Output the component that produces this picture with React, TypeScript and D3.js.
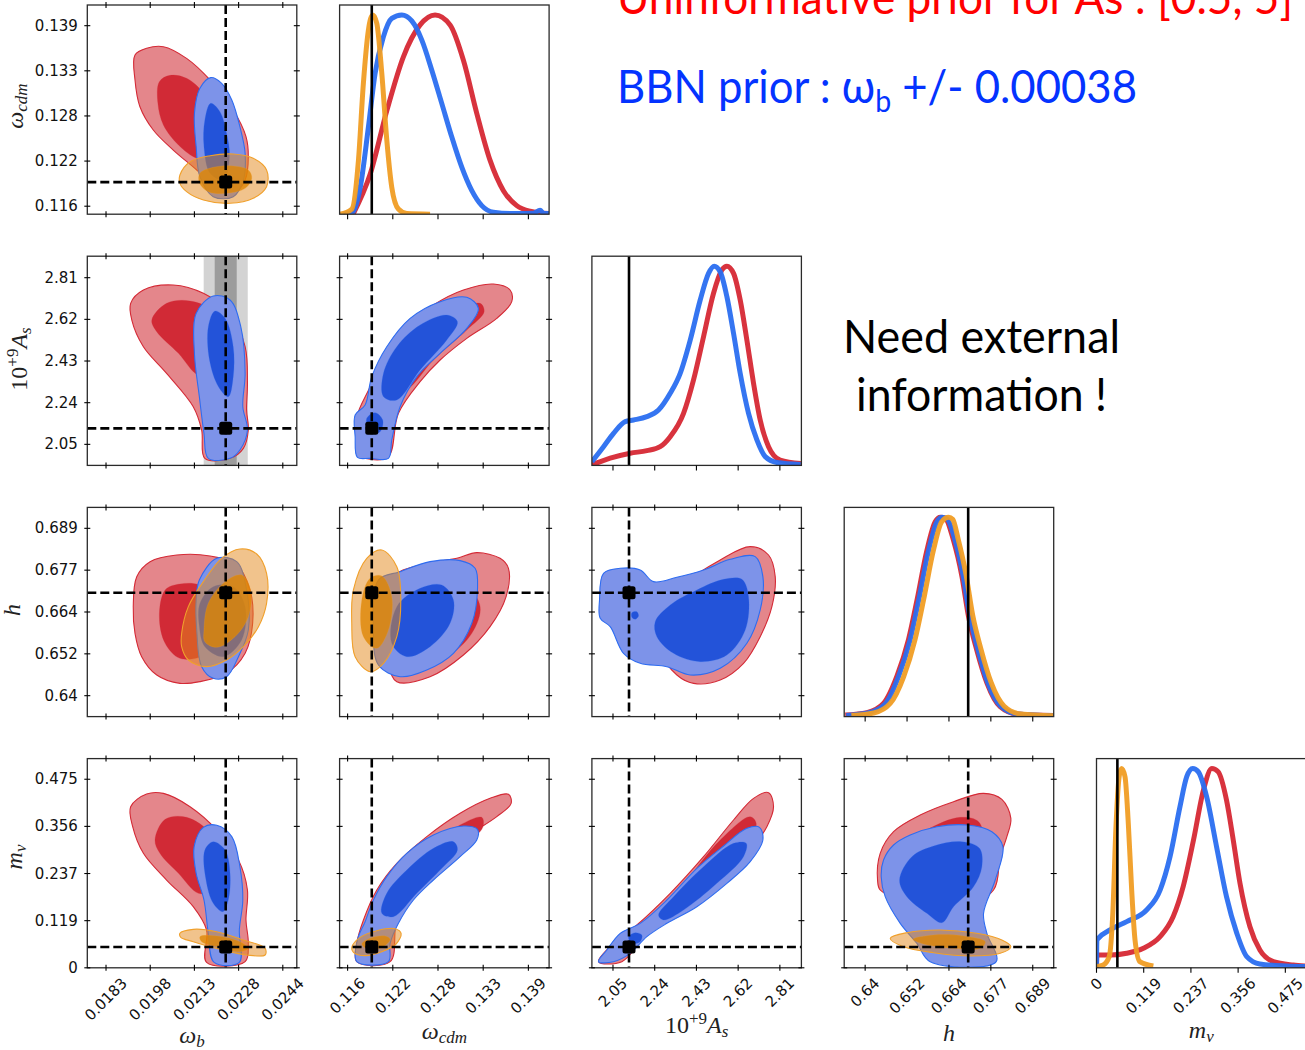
import React from 'react';
import * as d3 from 'd3';

type Pt = [number, number];
type Run = 'free' | 'bbn' | 'ext';
type Contour = { run: Run; level: 68 | 95; pts: Pt[] };
type Curve = { run: Run; pts: Pt[] };
type LabelPart = { t: string; it: boolean; pos: 'base' | 'sub' | 'sup' };

// parameters: omega_b, omega_cdm, 10^9 A_s, h, m_nu
const paramDomains: [number, number][] = [
  [0.017654, 0.024883],
  [0.115, 0.1417],
  [1.954, 2.908],
  [0.6339, 0.6949],
  [0, 0.527],
];
const paramTicks: number[][] = [
  [0.0183, 0.019825, 0.02135, 0.022875, 0.0244],
  [0.11602, 0.12178, 0.12754, 0.1333, 0.13906],
  [2.05, 2.24, 2.43, 2.62, 2.81],
  [0.64, 0.6522, 0.6644, 0.6766, 0.6888],
  [0, 0.11875, 0.2375, 0.35625, 0.475],
];
const paramTickLabels: string[][] = [
  ['0.0183', '0.0198', '0.0213', '0.0228', '0.0244'],
  ['0.116', '0.122', '0.128', '0.133', '0.139'],
  ['2.05', '2.24', '2.43', '2.62', '2.81'],
  ['0.64', '0.652', '0.664', '0.677', '0.689'],
  ['0', '0.119', '0.237', '0.356', '0.475'],
];
const axisLabels: LabelPart[][] = [
  [{ t: 'ω', it: true, pos: 'base' }, { t: 'b', it: true, pos: 'sub' }],
  [{ t: 'ω', it: true, pos: 'base' }, { t: 'cdm', it: true, pos: 'sub' }],
  [{ t: '10', it: false, pos: 'base' }, { t: '+9', it: false, pos: 'sup' }, { t: 'A', it: true, pos: 'base' }, { t: 's', it: true, pos: 'sub' }],
  [{ t: 'h', it: true, pos: 'base' }],
  [{ t: 'm', it: true, pos: 'base' }, { t: 'ν', it: true, pos: 'sub' }],
];
const fiducial = [0.02243, 0.1191, 2.123, 0.67, 0.0525];
const bbnSigma = 0.00038;

// 2D credible regions (95% then 68%)
const wbWcdm: Contour[] = [
  { run: 'free', level: 95, pts: [[0.0193, 0.13532], [0.0197, 0.13617], [0.02028, 0.13638], [0.02108, 0.13489], [0.02189, 0.13213], [0.02269, 0.1283], [0.02313, 0.1249], [0.02321, 0.12234], [0.0231, 0.11937], [0.02269, 0.11766], [0.02212, 0.1183], [0.02143, 0.12064], [0.02062, 0.12319], [0.01993, 0.12575], [0.01947, 0.12872], [0.0193, 0.13213]] },
  { run: 'free', level: 68, pts: [[0.02014, 0.13192], [0.02051, 0.13272], [0.02108, 0.13234], [0.02166, 0.13043], [0.022, 0.12745], [0.02212, 0.12405], [0.02189, 0.12192], [0.02143, 0.12213], [0.0208, 0.12383], [0.02028, 0.12638], [0.02009, 0.12915]] },
  { run: 'bbn', level: 95, pts: [[0.02191, 0.13243], [0.02229, 0.1317], [0.02264, 0.12958], [0.02292, 0.12617], [0.0231, 0.12277], [0.02304, 0.11937], [0.02269, 0.11724], [0.022, 0.11724], [0.02154, 0.11979], [0.02141, 0.12362], [0.02135, 0.12787], [0.02154, 0.13107]] },
  { run: 'bbn', level: 68, pts: [[0.02191, 0.12915], [0.02223, 0.12809], [0.02246, 0.12532], [0.02256, 0.12234], [0.02235, 0.11937], [0.02189, 0.12022], [0.02168, 0.12362], [0.02171, 0.12702]] },
  { run: 'ext', level: 95, pts: [[0.02085, 0.12], [0.0212, 0.1217], [0.02189, 0.12247], [0.02269, 0.12268], [0.02338, 0.12213], [0.02384, 0.12064], [0.02384, 0.11851], [0.02338, 0.11703], [0.02258, 0.11639], [0.02166, 0.11681], [0.02108, 0.11788], [0.02085, 0.11894]] },
  { run: 'ext', level: 68, pts: [[0.02154, 0.12022], [0.022, 0.12098], [0.02269, 0.12115], [0.02321, 0.12064], [0.02333, 0.11958], [0.0231, 0.1183], [0.02246, 0.11766], [0.02183, 0.11788], [0.02152, 0.11902]] },
];

const wbAs: Contour[] = [
  { run: 'free', level: 95, pts: [[0.01915, 2.693], [0.01959, 2.7538], [0.02062, 2.7766], [0.02166, 2.7386], [0.02258, 2.6474], [0.0231, 2.4954], [0.02318, 2.3282], [0.02315, 2.2066], [0.02321, 2.1154], [0.02304, 2.0318], [0.02258, 1.9862], [0.02171, 1.9862], [0.0216, 2.1154], [0.02131, 2.2218], [0.02039, 2.3738], [0.01959, 2.4954], [0.01919, 2.617]] },
  { run: 'free', level: 68, pts: [[0.01988, 2.617], [0.02039, 2.693], [0.0212, 2.7037], [0.022, 2.655], [0.02223, 2.5258], [0.022, 2.389], [0.02149, 2.3662], [0.0208, 2.465], [0.02005, 2.5638]] },
  { run: 'bbn', level: 95, pts: [[0.022, 2.7265], [0.02258, 2.7082], [0.02295, 2.5866], [0.0231, 2.3738], [0.02302, 2.2218], [0.02318, 2.1154], [0.02292, 2.0242], [0.02258, 1.9862], [0.02183, 1.9862], [0.02168, 2.1002], [0.02152, 2.2674], [0.02135, 2.465], [0.02141, 2.6474]] },
  { run: 'bbn', level: 68, pts: [[0.02206, 2.6581], [0.02241, 2.6246], [0.02269, 2.4954], [0.02269, 2.3586], [0.02252, 2.2674], [0.02218, 2.313], [0.02187, 2.4346], [0.02183, 2.5866]] },
];

const wcdmAs: Contour[] = [
  { run: 'free', level: 95, pts: [[0.11719, 2.0698], [0.11719, 2.1762], [0.11889, 2.313], [0.12101, 2.4802], [0.12356, 2.5866], [0.12696, 2.6854], [0.13078, 2.7538], [0.13461, 2.7812], [0.13673, 2.7538], [0.13694, 2.7006], [0.13503, 2.6246], [0.13121, 2.5334], [0.12781, 2.4346], [0.12526, 2.3358], [0.1225, 2.1914], [0.12122, 1.9938], [0.11889, 1.9817], [0.11727, 2.009]] },
  { run: 'free', level: 68, pts: [[0.12101, 2.2674], [0.12229, 2.4042], [0.12526, 2.541], [0.12951, 2.655], [0.13291, 2.693], [0.13342, 2.655], [0.13121, 2.5714], [0.12696, 2.4346], [0.12356, 2.2978]] },
  { run: 'bbn', level: 95, pts: [[0.11727, 1.9908], [0.11698, 2.085], [0.11698, 2.1838], [0.11825, 2.2294], [0.1191, 2.3586], [0.12101, 2.4954], [0.12399, 2.6246], [0.12781, 2.7006], [0.13121, 2.7204], [0.13269, 2.6702], [0.13121, 2.579], [0.12781, 2.465], [0.12484, 2.3586], [0.12271, 2.2218], [0.12165, 2.0698], [0.12122, 1.9862], [0.11889, 1.9862]] },
  { run: 'bbn', level: 68, pts: [[0.12059, 2.2674], [0.12059, 2.3738], [0.12229, 2.4954], [0.12526, 2.5942], [0.12866, 2.6398], [0.13002, 2.6094], [0.12866, 2.5258], [0.12526, 2.389], [0.12229, 2.2522]] },
  { run: 'bbn', level: 68, pts: [[0.11846, 2.1686], [0.11952, 2.1945], [0.1205, 2.161], [0.12016, 2.1078], [0.11889, 2.1002]] },
];

const wbH: Contour[] = [
  { run: 'free', level: 95, pts: [[0.01924, 0.66596], [0.01936, 0.6747], [0.01982, 0.67908], [0.02074, 0.68102], [0.02189, 0.68073], [0.02281, 0.67811], [0.02327, 0.67082], [0.02336, 0.6611], [0.0231, 0.65235], [0.02246, 0.64652], [0.02154, 0.64409], [0.02085, 0.6436], [0.02005, 0.64603], [0.01953, 0.65138], [0.0193, 0.65818]] },
  { run: 'free', level: 68, pts: [[0.02014, 0.66304], [0.02034, 0.67082], [0.02085, 0.67257], [0.02154, 0.67228], [0.022, 0.66887], [0.02212, 0.65915], [0.02166, 0.65186], [0.02085, 0.65089], [0.02034, 0.65527]] },
  { run: 'bbn', level: 95, pts: [[0.02152, 0.67373], [0.02212, 0.68005], [0.02281, 0.67908], [0.02315, 0.67082], [0.02321, 0.65915], [0.02287, 0.65138], [0.02246, 0.64554], [0.022, 0.64506], [0.0216, 0.64846], [0.02143, 0.65915], [0.02141, 0.6679]] },
  { run: 'bbn', level: 68, pts: [[0.02154, 0.66693], [0.022, 0.67179], [0.02269, 0.67179], [0.0231, 0.66596], [0.02298, 0.65624], [0.02235, 0.65138], [0.02171, 0.65429], [0.02152, 0.66012]] },
  { run: 'ext', level: 95, pts: [[0.02091, 0.65818], [0.02114, 0.66596], [0.02166, 0.67325], [0.02229, 0.68005], [0.02292, 0.68277], [0.0235, 0.68131], [0.02384, 0.67568], [0.02384, 0.66693], [0.02356, 0.66012], [0.02304, 0.65429], [0.02246, 0.65041], [0.02177, 0.64846], [0.02114, 0.65041], [0.02091, 0.65429]] },
  { run: 'ext', level: 68, pts: [[0.02168, 0.65915], [0.02183, 0.66693], [0.02241, 0.67325], [0.02298, 0.67519], [0.02329, 0.67082], [0.02321, 0.66304], [0.02275, 0.65721], [0.02212, 0.6541], [0.02171, 0.65575]] },
];

const wcdmH: Contour[] = [
  { run: 'free', level: 95, pts: [[0.12229, 0.64409], [0.12653, 0.64554], [0.13078, 0.65186], [0.13418, 0.66012], [0.13622, 0.66887], [0.13652, 0.67714], [0.13546, 0.68005], [0.13248, 0.6817], [0.12993, 0.68005], [0.12526, 0.67811], [0.12186, 0.6747], [0.1208, 0.6611], [0.12122, 0.64943]] },
  { run: 'free', level: 68, pts: [[0.12229, 0.65429], [0.12314, 0.6679], [0.12696, 0.67325], [0.13121, 0.67179], [0.13291, 0.66596], [0.13185, 0.65818], [0.12866, 0.65138], [0.12484, 0.64943]] },
  { run: 'bbn', level: 95, pts: [[0.11995, 0.64895], [0.11931, 0.65915], [0.11995, 0.67373], [0.12271, 0.67616], [0.12653, 0.67908], [0.13036, 0.67937], [0.13227, 0.67714], [0.13257, 0.67082], [0.13185, 0.6611], [0.12951, 0.65235], [0.12611, 0.64749], [0.12271, 0.64554]] },
  { run: 'bbn', level: 68, pts: [[0.12165, 0.65527], [0.12229, 0.66596], [0.12526, 0.6713], [0.12802, 0.67228], [0.12951, 0.6679], [0.12908, 0.6611], [0.12653, 0.65429], [0.12356, 0.65138]] },
  { run: 'ext', level: 95, pts: [[0.11676, 0.67082], [0.11846, 0.68005], [0.12038, 0.68248], [0.12229, 0.67762], [0.1228, 0.6679], [0.12229, 0.65721], [0.12059, 0.64943], [0.11889, 0.647], [0.11698, 0.65138], [0.11655, 0.6611]] },
  { run: 'ext', level: 68, pts: [[0.11783, 0.6679], [0.11889, 0.67422], [0.12038, 0.6749], [0.12165, 0.66887], [0.12122, 0.65915], [0.11974, 0.65381], [0.11804, 0.65721]] },
];

const asH: Contour[] = [
  { run: 'free', level: 95, pts: [[2.2347, 0.66304], [2.3561, 0.67179], [2.5383, 0.67957], [2.6749, 0.68345], [2.7584, 0.68102], [2.7888, 0.6747], [2.7736, 0.66596], [2.7204, 0.65721], [2.6445, 0.64943], [2.5383, 0.64457], [2.4168, 0.6436], [2.3409, 0.64603], [2.2499, 0.65429]] },
  { run: 'free', level: 68, pts: [[2.3637, 0.65915], [2.4472, 0.66936], [2.5838, 0.67422], [2.6719, 0.67179], [2.6825, 0.66304], [2.6294, 0.65478], [2.5231, 0.64992], [2.4168, 0.65089]] },
  { run: 'bbn', level: 95, pts: [[1.9887, 0.6679], [2.007, 0.67568], [2.0829, 0.67714], [2.174, 0.67665], [2.2347, 0.67325], [2.3409, 0.67451], [2.4624, 0.67665], [2.5838, 0.67976], [2.6977, 0.68054], [2.7326, 0.6747], [2.7204, 0.66499], [2.6597, 0.65527], [2.5383, 0.64798], [2.4017, 0.64603], [2.2954, 0.64846], [2.174, 0.64943], [2.098, 0.65235], [2.0373, 0.66012], [1.9918, 0.66256]] },
  { run: 'bbn', level: 68, pts: [[2.2423, 0.66158], [2.3106, 0.66644], [2.432, 0.67082], [2.5534, 0.67393], [2.637, 0.67393], [2.6673, 0.66887], [2.6521, 0.65915], [2.5687, 0.65186], [2.4472, 0.64992], [2.3257, 0.65235], [2.2499, 0.65721]] },
  { run: 'bbn', level: 68, pts: [[2.136, 0.66421], [2.1588, 0.6645], [2.1664, 0.66324], [2.1512, 0.66226], [2.136, 0.66285]] },
];

const wbM: Contour[] = [
  { run: 'free', level: 95, pts: [[0.01915, 0.40589], [0.0197, 0.4378], [0.02028, 0.43949], [0.0212, 0.40589], [0.02212, 0.34712], [0.02287, 0.27155], [0.02318, 0.19598], [0.02313, 0.12041], [0.02321, 0.06164], [0.0231, 0.01544], [0.02177, 0.01378], [0.02177, 0.09522], [0.02131, 0.15399], [0.02039, 0.22117], [0.01959, 0.28835], [0.01922, 0.35551]] },
  { run: 'free', level: 68, pts: [[0.01999, 0.32193], [0.02034, 0.374], [0.02108, 0.37903], [0.02189, 0.33873], [0.02218, 0.27155], [0.022, 0.19598], [0.02149, 0.18759], [0.0208, 0.23797], [0.02016, 0.28835]] },
  { run: 'bbn', level: 95, pts: [[0.02166, 0.35384], [0.02212, 0.35888], [0.02264, 0.33032], [0.02292, 0.25475], [0.02302, 0.17079], [0.0229, 0.09522], [0.0229, 0.01378], [0.02203, 0.01378], [0.02183, 0.08683], [0.02168, 0.17079], [0.02141, 0.23797], [0.02134, 0.30513]] },
  { run: 'bbn', level: 68, pts: [[0.02171, 0.29674], [0.022, 0.31772], [0.02241, 0.29674], [0.02258, 0.23797], [0.02252, 0.17079], [0.02233, 0.14139], [0.022, 0.1624], [0.02175, 0.22117]] },
  { run: 'ext', level: 95, pts: [[0.02085, 0.08683], [0.02131, 0.09691], [0.02212, 0.09101], [0.02304, 0.07003], [0.02379, 0.04905], [0.02379, 0.03224], [0.02315, 0.03224], [0.02223, 0.04653], [0.02131, 0.06582], [0.02088, 0.07675]] },
  { run: 'ext', level: 68, pts: [[0.02154, 0.07842], [0.02212, 0.0801], [0.02292, 0.06582], [0.02321, 0.04905], [0.02292, 0.04063], [0.02212, 0.05323], [0.0216, 0.06582]] },
];

const wcdmM: Contour[] = [
  { run: 'free', level: 95, pts: [[0.11719, 0.06164], [0.11804, 0.12041], [0.11974, 0.19598], [0.12229, 0.26316], [0.12611, 0.33032], [0.13036, 0.38911], [0.13418, 0.42689], [0.13652, 0.43697], [0.13686, 0.4143], [0.13503, 0.3807], [0.13121, 0.33032], [0.12781, 0.27155], [0.12484, 0.21278], [0.12229, 0.12041], [0.12144, 0.01544], [0.11719, 0.01544]] },
  { run: 'free', level: 68, pts: [[0.12101, 0.1624], [0.12271, 0.23797], [0.12653, 0.30513], [0.13036, 0.35971], [0.13312, 0.37903], [0.13325, 0.35384], [0.13078, 0.30513], [0.12653, 0.22956], [0.12314, 0.1624]] },
  { run: 'bbn', level: 95, pts: [[0.11719, 0.01544], [0.11727, 0.07003], [0.11825, 0.1162], [0.11931, 0.17079], [0.12101, 0.22956], [0.12356, 0.28835], [0.12696, 0.33452], [0.13078, 0.35719], [0.13257, 0.34881], [0.13248, 0.32193], [0.13036, 0.27994], [0.12696, 0.22117], [0.12441, 0.17079], [0.1225, 0.11202], [0.12144, 0.06164], [0.12122, 0.01544]] },
  { run: 'bbn', level: 68, pts: [[0.12038, 0.13721], [0.12101, 0.18759], [0.12356, 0.24636], [0.12696, 0.30094], [0.12951, 0.31772], [0.13002, 0.29674], [0.12781, 0.24636], [0.12484, 0.18759], [0.12186, 0.1288]] },
  { run: 'ext', level: 95, pts: [[0.11655, 0.05156], [0.11761, 0.07675], [0.11974, 0.09353], [0.12207, 0.09857], [0.12284, 0.08683], [0.1222, 0.05995], [0.12038, 0.04063], [0.11825, 0.03056], [0.11676, 0.03897]] },
  { run: 'ext', level: 68, pts: [[0.11783, 0.05995], [0.11889, 0.07424], [0.1208, 0.0801], [0.12144, 0.07172], [0.12059, 0.05323], [0.11867, 0.04653]] },
];

const asM: Contour[] = [
  { run: 'free', level: 95, pts: [[1.9842, 0.01544], [2.0525, 0.06164], [2.1588, 0.10781], [2.3106, 0.18759], [2.4624, 0.27994], [2.599, 0.37231], [2.6901, 0.42689], [2.7584, 0.44115], [2.7811, 0.40589], [2.7508, 0.35551], [2.6749, 0.29674], [2.5383, 0.22117], [2.3713, 0.1456], [2.2195, 0.09522], [2.0905, 0.01544]] },
  { run: 'free', level: 68, pts: [[2.2499, 0.1288], [2.3865, 0.22117], [2.5383, 0.32193], [2.6749, 0.3807], [2.7022, 0.36392], [2.6597, 0.30513], [2.5079, 0.21278], [2.3257, 0.1288]] },
  { run: 'bbn', level: 95, pts: [[1.9842, 0.01544], [2.0222, 0.04484], [2.0829, 0.08683], [2.174, 0.11202], [2.2954, 0.17079], [2.432, 0.25056], [2.5534, 0.30682], [2.6597, 0.35132], [2.7174, 0.35384], [2.7326, 0.32193], [2.6749, 0.26734], [2.5687, 0.21278], [2.432, 0.15399], [2.2954, 0.11202], [2.2043, 0.07842], [2.1284, 0.03645], [2.0525, 0.01544]] },
  { run: 'bbn', level: 68, pts: [[2.2574, 0.133], [2.3257, 0.17918], [2.4624, 0.25475], [2.599, 0.31354], [2.6567, 0.31354], [2.6445, 0.27994], [2.5231, 0.21278], [2.3713, 0.1456], [2.2802, 0.12041]] },
  { run: 'bbn', level: 68, pts: [[2.1208, 0.07842], [2.1512, 0.08849], [2.1816, 0.08262], [2.174, 0.06582], [2.136, 0.06164]] },
];

const hM: Contour[] = [
  { run: 'free', level: 95, pts: [[0.64361, 0.22117], [0.64438, 0.28835], [0.64827, 0.34291], [0.65603, 0.3849], [0.66574, 0.41848], [0.67447, 0.43949], [0.67981, 0.42438], [0.68243, 0.37651], [0.68127, 0.33032], [0.67933, 0.27994], [0.67739, 0.19598], [0.66768, 0.15399], [0.65118, 0.17079], [0.64438, 0.19598]] },
  { run: 'free', level: 68, pts: [[0.65215, 0.30513], [0.65797, 0.34712], [0.66768, 0.37903], [0.67302, 0.3681], [0.67447, 0.32193], [0.67253, 0.22117], [0.6638, 0.13721], [0.65312, 0.17079], [0.65021, 0.24636]] },
  { run: 'bbn', level: 95, pts: [[0.64535, 0.27155], [0.64827, 0.30933], [0.65312, 0.33452], [0.66089, 0.35551], [0.66962, 0.35971], [0.6769, 0.34291], [0.68011, 0.30513], [0.67787, 0.22117], [0.67447, 0.13721], [0.67545, 0.08683], [0.67816, 0.01544], [0.65894, 0.01544], [0.65506, 0.06164], [0.65021, 0.11202], [0.64584, 0.17918], [0.64467, 0.22956]] },
  { run: 'bbn', level: 68, pts: [[0.65001, 0.22117], [0.65361, 0.27994], [0.65991, 0.30682], [0.66817, 0.31772], [0.67331, 0.30094], [0.67399, 0.25475], [0.67156, 0.20437], [0.66574, 0.15399], [0.66234, 0.11368], [0.65797, 0.13721], [0.65215, 0.17918]] },
  { run: 'ext', level: 95, pts: [[0.6473, 0.07424], [0.65215, 0.08849], [0.66186, 0.09522], [0.67253, 0.08683], [0.67981, 0.07003], [0.68243, 0.05323], [0.67933, 0.03645], [0.67059, 0.02972], [0.65991, 0.03811], [0.65118, 0.05323]] },
  { run: 'ext', level: 68, pts: [[0.6539, 0.07172], [0.65991, 0.08262], [0.66865, 0.0801], [0.67496, 0.06582], [0.6735, 0.04905], [0.66574, 0.04905], [0.657, 0.05995]] },
];

// 1D marginals (peak normalised to 1)
const wcdm1d: Curve[] = [
  { run: 'free', pts: [[0.11676, 0.003], [0.11889, 0.2], [0.12102, 0.52], [0.12313, 0.79], [0.12526, 0.95], [0.12717, 1.0], [0.12908, 0.95], [0.13078, 0.773], [0.13249, 0.505], [0.13418, 0.27], [0.13588, 0.118], [0.13758, 0.043], [0.13928, 0.015], [0.1417, 0.003]] },
  { run: 'bbn', pts: [[0.1155, 0], [0.11656, 0.005], [0.11761, 0.13], [0.11867, 0.437], [0.11952, 0.706], [0.12058, 0.89], [0.12165, 0.983], [0.12293, 1.0], [0.1242, 0.97], [0.12548, 0.874], [0.12675, 0.723], [0.12803, 0.555], [0.1293, 0.387], [0.13057, 0.236], [0.13185, 0.118], [0.13312, 0.043], [0.1346, 0.01], [0.13715, 0.003], [0.1397, 0.005], [0.14055, 0.02], [0.14098, 0.005], [0.1417, 0.003]] },
  { run: 'ext', pts: [[0.11506, 0], [0.11656, 0.026], [0.1174, 0.27], [0.11803, 0.656], [0.11867, 0.924], [0.11923, 1.0], [0.11974, 0.958], [0.12038, 0.706], [0.12102, 0.37], [0.12165, 0.135], [0.12249, 0.026], [0.12357, 0.003], [0.12653, 0]] },
];
const as1d: Curve[] = [
  { run: 'free', pts: [[1.954, 0.002], [2.0373, 0.036], [2.1284, 0.061], [2.2043, 0.074], [2.265, 0.094], [2.3106, 0.144], [2.3713, 0.261], [2.4168, 0.429], [2.4624, 0.646], [2.5079, 0.864], [2.5459, 0.981], [2.5687, 1.0], [2.599, 0.964], [2.6294, 0.83], [2.6597, 0.629], [2.6901, 0.412], [2.7204, 0.228], [2.7584, 0.094], [2.8115, 0.027], [2.905, 0.01]] },
  { run: 'bbn', pts: [[1.954, 0.019], [2.007, 0.094], [2.0525, 0.161], [2.1057, 0.22], [2.1436, 0.228], [2.2043, 0.245], [2.2574, 0.278], [2.3106, 0.362], [2.3561, 0.462], [2.4017, 0.629], [2.4472, 0.83], [2.4851, 0.964], [2.5109, 1.0], [2.5383, 0.972], [2.5687, 0.847], [2.599, 0.663], [2.6294, 0.462], [2.6673, 0.261], [2.7053, 0.128], [2.7432, 0.044], [2.7963, 0.015], [2.905, 0.005]] },
];
const h1d: Curve[] = [
  { run: 'free', pts: [[0.6342, 0.008], [0.6405, 0.02], [0.6454, 0.067], [0.6492, 0.2], [0.6526, 0.385], [0.6551, 0.585], [0.658, 0.836], [0.6604, 0.978], [0.6619, 1.0], [0.6633, 0.995], [0.6657, 0.886], [0.6682, 0.702], [0.6701, 0.502], [0.6725, 0.334], [0.6755, 0.167], [0.6793, 0.05], [0.6842, 0.013], [0.6949, 0.005]] },
  { run: 'bbn', pts: [[0.6345, 0.006], [0.6408, 0.018], [0.6459, 0.065], [0.6497, 0.2], [0.6531, 0.385], [0.6556, 0.585], [0.6585, 0.836], [0.6609, 0.978], [0.6624, 1.0], [0.6638, 0.993], [0.6661, 0.89], [0.6685, 0.71], [0.6704, 0.51], [0.6728, 0.34], [0.6757, 0.17], [0.6795, 0.052], [0.6843, 0.013], [0.6949, 0.004]] },
  { run: 'ext', pts: [[0.636, 0.005], [0.6425, 0.018], [0.6473, 0.066], [0.6512, 0.2], [0.6545, 0.385], [0.657, 0.585], [0.6599, 0.836], [0.6623, 0.978], [0.6643, 1.0], [0.6655, 0.99], [0.6671, 0.89], [0.6694, 0.71], [0.6713, 0.51], [0.6737, 0.34], [0.6767, 0.17], [0.6805, 0.052], [0.6853, 0.013], [0.6949, 0.004]] },
];
const m1d: Curve[] = [
  { run: 'free', pts: [[0, 0], [0.001, 0.064], [0.034, 0.064], [0.076, 0.073], [0.118, 0.098], [0.16, 0.156], [0.193, 0.257], [0.218, 0.407], [0.244, 0.641], [0.269, 0.892], [0.29, 1.0], [0.306, 0.984], [0.327, 0.842], [0.344, 0.641], [0.361, 0.424], [0.386, 0.206], [0.411, 0.089], [0.445, 0.031], [0.495, 0.014], [0.525, 0.009]] },
  { run: 'bbn', pts: [[0, 0], [0.001, 0.14], [0.034, 0.19], [0.076, 0.232], [0.126, 0.29], [0.16, 0.39], [0.185, 0.558], [0.21, 0.809], [0.227, 0.959], [0.242, 1.0], [0.256, 0.984], [0.277, 0.859], [0.302, 0.608], [0.327, 0.357], [0.353, 0.173], [0.378, 0.056], [0.411, 0.019], [0.478, 0.009], [0.525, 0.006]] },
  { run: 'ext', pts: [[0, 0.005], [0.017, 0.014], [0.032, 0.056], [0.041, 0.273], [0.049, 0.708], [0.057, 0.959], [0.063, 1.0], [0.0717, 0.959], [0.08, 0.725], [0.0885, 0.39], [0.0969, 0.14], [0.109, 0.031], [0.143, 0.009]] },
];

const panels2D = [
  { xi: 0, yi: 1, contours: wbWcdm, band: false },
  { xi: 0, yi: 2, contours: wbAs, band: true },
  { xi: 1, yi: 2, contours: wcdmAs, band: false },
  { xi: 0, yi: 3, contours: wbH, band: false },
  { xi: 1, yi: 3, contours: wcdmH, band: false },
  { xi: 2, yi: 3, contours: asH, band: false },
  { xi: 0, yi: 4, contours: wbM, band: false },
  { xi: 1, yi: 4, contours: wcdmM, band: false },
  { xi: 2, yi: 4, contours: asM, band: false },
  { xi: 3, yi: 4, contours: hM, band: false },
];
const panels1D = [
  { pi: 1, curves: wcdm1d },
  { pi: 2, curves: as1d },
  { pi: 3, curves: h1d },
  { pi: 4, curves: m1d },
];

// layout
const W = 209.5;
const H = 209.2;
const colLeft = (c: number) => 87.3 + c * 252.3;
const rowTop = (r: number) => 5 + r * 251.2;
const yLabelPos = [
  { x: 23, y: 106 },
  { x: 27, y: 359 },
  { x: 20, y: 610 },
  { x: 22, y: 857 },
];
const xLabelBase = [1043, 1039, 1033, 1041, 1038];

const TICK_FONT = 'DejaVu Sans, sans-serif';
const MATH_FONT = 'Liberation Serif, DejaVu Serif, serif';
const TITLE_FONT = 'Lato, Open Sans, sans-serif';

const runStyle: Record<Run, { outer: string; inner: string; edge: string; line: string; oa: number; ia: number }> = {
  free: { outer: '#e4868b', inner: '#d12a36', edge: '#d42a36', line: '#d62834', oa: 1, ia: 1 },
  bbn: { outer: '#7d93e9', inner: '#2353d9', edge: '#2e6cf0', line: '#2a6ef0', oa: 1, ia: 1 },
  ext: { outer: '#e38719', inner: '#de8604', edge: '#f0a02c', line: '#f09d24', oa: 0.5, ia: 0.8 },
};

function tickLabelWidth(s: string) {
  let w = 0;
  for (const ch of s) w += ch === '.' ? 0.318 : 0.636;
  return w * 15;
}

function mathSpans(parts: LabelPart[]) {
  let shift = 0;
  return parts.map((p, i) => {
    const target = p.pos === 'sub' ? 4 : p.pos === 'sup' ? -9 : 0;
    const dy = target - shift;
    shift = target;
    return (
      <tspan key={i} dy={dy} fontStyle={p.it ? 'italic' : 'normal'} fontSize={p.pos === 'base' ? 24 : 17}>
        {p.t}
      </tspan>
    );
  });
}

function XTickLabels({ pi, left, bottom }: { pi: number; left: number; bottom: number }) {
  const x = d3.scaleLinear().domain(paramDomains[pi]).range([left, left + W]);
  return (
    <g fontFamily={TICK_FONT} fontSize={15} fill="#111">
      {paramTicks[pi].map((t, i) => {
        const lab = paramTickLabels[pi][i];
        const half = ((tickLabelWidth(lab) + 17) * 0.7071) / 2;
        const cx = x(t);
        const cy = bottom + 7 + half;
        return (
          <text key={i} x={cx} y={cy} textAnchor="middle" dominantBaseline="central" transform={`rotate(-45 ${cx} ${cy})`}>
            {lab}
          </text>
        );
      })}
    </g>
  );
}

function Panel2D({ xi, yi, contours, band }: { xi: number; yi: number; contours: Contour[]; band: boolean }) {
  const row = yi - 1;
  const col = xi;
  const left = colLeft(col);
  const top = rowTop(row);
  const x = d3.scaleLinear().domain(paramDomains[xi]).range([left, left + W]);
  const y = d3.scaleLinear().domain(paramDomains[yi]).range([top + H, top]);
  const path = d3.line<Pt>().x((d) => x(d[0])).y((d) => y(d[1])).curve(d3.curveCatmullRomClosed.alpha(0.5));
  const clipId = `clip-${row}-${col}`;
  const fx = x(fiducial[xi]);
  const fy = y(fiducial[yi]);
  return (
    <g>
      <clipPath id={clipId}>
        <rect x={left} y={top} width={W} height={H} />
      </clipPath>
      <g clipPath={`url(#${clipId})`}>
        {band && (
          <g>
            <rect x={x(fiducial[0] - 2 * bbnSigma)} y={top} width={x(fiducial[0] + 2 * bbnSigma) - x(fiducial[0] - 2 * bbnSigma)} height={H} fill="#d3d3d3" />
            <rect x={x(fiducial[0] - bbnSigma)} y={top} width={x(fiducial[0] + bbnSigma) - x(fiducial[0] - bbnSigma)} height={H} fill="#9c9c9c" />
          </g>
        )}
        {contours.map((c, i) => {
          const s = runStyle[c.run];
          return c.level === 95 ? (
            <path key={i} d={path(c.pts) || ''} fill={s.outer} fillOpacity={s.oa} stroke={s.edge} strokeWidth={1.1} />
          ) : (
            <path key={i} d={path(c.pts) || ''} fill={s.inner} fillOpacity={s.ia} stroke={s.edge} strokeOpacity={0.3} strokeWidth={0.8} />
          );
        })}
        <line x1={fx} x2={fx} y1={top} y2={top + H} stroke="#000" strokeWidth={2.6} strokeDasharray="9,4" />
        <line x1={left} x2={left + W} y1={fy} y2={fy} stroke="#000" strokeWidth={2.6} strokeDasharray="9,4" />
        <rect x={fx - 6.5} y={fy - 6.5} width={13} height={13} rx={2.5} fill="#000" />
      </g>
      <rect x={left} y={top} width={W} height={H} fill="none" stroke="#2a2a2a" strokeWidth={1.3} />
      <g stroke="#000" strokeWidth={1.1}>
        {paramTicks[xi].map((t, i) => (
          <g key={`x${i}`}>
            <line x1={x(t)} x2={x(t)} y1={top + H - 3} y2={top + H + 3} />
            <line x1={x(t)} x2={x(t)} y1={top - 3} y2={top + 3} />
          </g>
        ))}
        {paramTicks[yi].map((t, i) => (
          <g key={`y${i}`}>
            <line x1={left - 3} x2={left + 3} y1={y(t)} y2={y(t)} />
            <line x1={left + W - 3} x2={left + W + 3} y1={y(t)} y2={y(t)} />
          </g>
        ))}
      </g>
      {col === 0 && (
        <g fontFamily={TICK_FONT} fontSize={15} fill="#111">
          {paramTicks[yi].map((t, i) => (
            <text key={i} x={left - 9.5} y={y(t)} textAnchor="end" dominantBaseline="central">
              {paramTickLabels[yi][i]}
            </text>
          ))}
        </g>
      )}
      {row === 3 && <XTickLabels pi={xi} left={left} bottom={top + H} />}
    </g>
  );
}

function Panel1D({ pi, curves }: { pi: number; curves: Curve[] }) {
  const row = pi - 1;
  const col = pi;
  const left = colLeft(col);
  const top = rowTop(row);
  const x = d3.scaleLinear().domain(paramDomains[pi]).range([left, left + W]);
  const y = d3.scaleLinear().domain([0, 1.05]).range([top + H, top]);
  const line = d3.line<Pt>().x((d) => x(d[0])).y((d) => y(d[1])).curve(d3.curveMonotoneX);
  const clipId = `clip1d-${pi}`;
  const fx = x(fiducial[pi]);
  return (
    <g>
      <clipPath id={clipId}>
        <rect x={left} y={top} width={W} height={H} />
      </clipPath>
      <g clipPath={`url(#${clipId})`}>
        {curves.map((c, i) => (
          <path key={i} d={line(c.pts) || ''} fill="none" stroke={runStyle[c.run].line} strokeWidth={5} strokeOpacity={0.95} strokeLinejoin="round" />
        ))}
        <line x1={fx} x2={fx} y1={top} y2={top + H} stroke="#000" strokeWidth={2.6} />
      </g>
      <rect x={left} y={top} width={W} height={H} fill="none" stroke="#2a2a2a" strokeWidth={1.3} />
      <g stroke="#000" strokeWidth={1.1}>
        {paramTicks[pi].map((t, i) => (
          <line key={i} x1={x(t)} x2={x(t)} y1={top + H} y2={top + H + 5} />
        ))}
      </g>
      {row === 3 && <XTickLabels pi={pi} left={left} bottom={top + H} />}
    </g>
  );
}

export default function App() {
  return (
    <svg width={1305} height={1050} style={{ position: 'absolute', left: 0, top: 0, background: '#fff' }}>
      <rect x={0} y={0} width={1305} height={1050} fill="#fff" />
      {panels2D.map((p, i) => (
        <Panel2D key={i} {...p} />
      ))}
      {panels1D.map((p, i) => (
        <Panel1D key={i} {...p} />
      ))}

      {/* axis titles */}
      <g fontFamily={MATH_FONT} fill="#222">
        {yLabelPos.map((pos, r) => (
          <text key={r} x={pos.x} y={pos.y} textAnchor="middle" transform={`rotate(-90 ${pos.x} ${pos.y})`}>
            {mathSpans(axisLabels[r + 1])}
          </text>
        ))}
        {axisLabels.map((parts, c) => {
          const cx = colLeft(c) + W / 2;
          return (
            <text key={c} x={cx} y={xLabelBase[c]} textAnchor="middle">
              {mathSpans(parts)}
            </text>
          );
        })}
      </g>

      {/* annotations */}
      <g fontFamily={TITLE_FONT} fontSize={46}>
        <text x={617} y={14} fill="#ff0000" textLength={676} lengthAdjust="spacingAndGlyphs">
          Uninformative prior for As : [0.5, 5]
        </text>
        <text x={617} y={103} fill="#0433ff" textLength={520} lengthAdjust="spacingAndGlyphs">
          BBN prior : ω<tspan dy={9} fontSize={30}>b</tspan>
          <tspan dy={-9}> +/- 0.00038</tspan>
        </text>
        <text x={981.5} y={353} fill="#000" textAnchor="middle" textLength={277} lengthAdjust="spacingAndGlyphs">
          Need external
        </text>
        <text x={981.5} y={411} fill="#000" textAnchor="middle" textLength={251} lengthAdjust="spacingAndGlyphs">
          information !
        </text>
      </g>
    </svg>
  );
}
